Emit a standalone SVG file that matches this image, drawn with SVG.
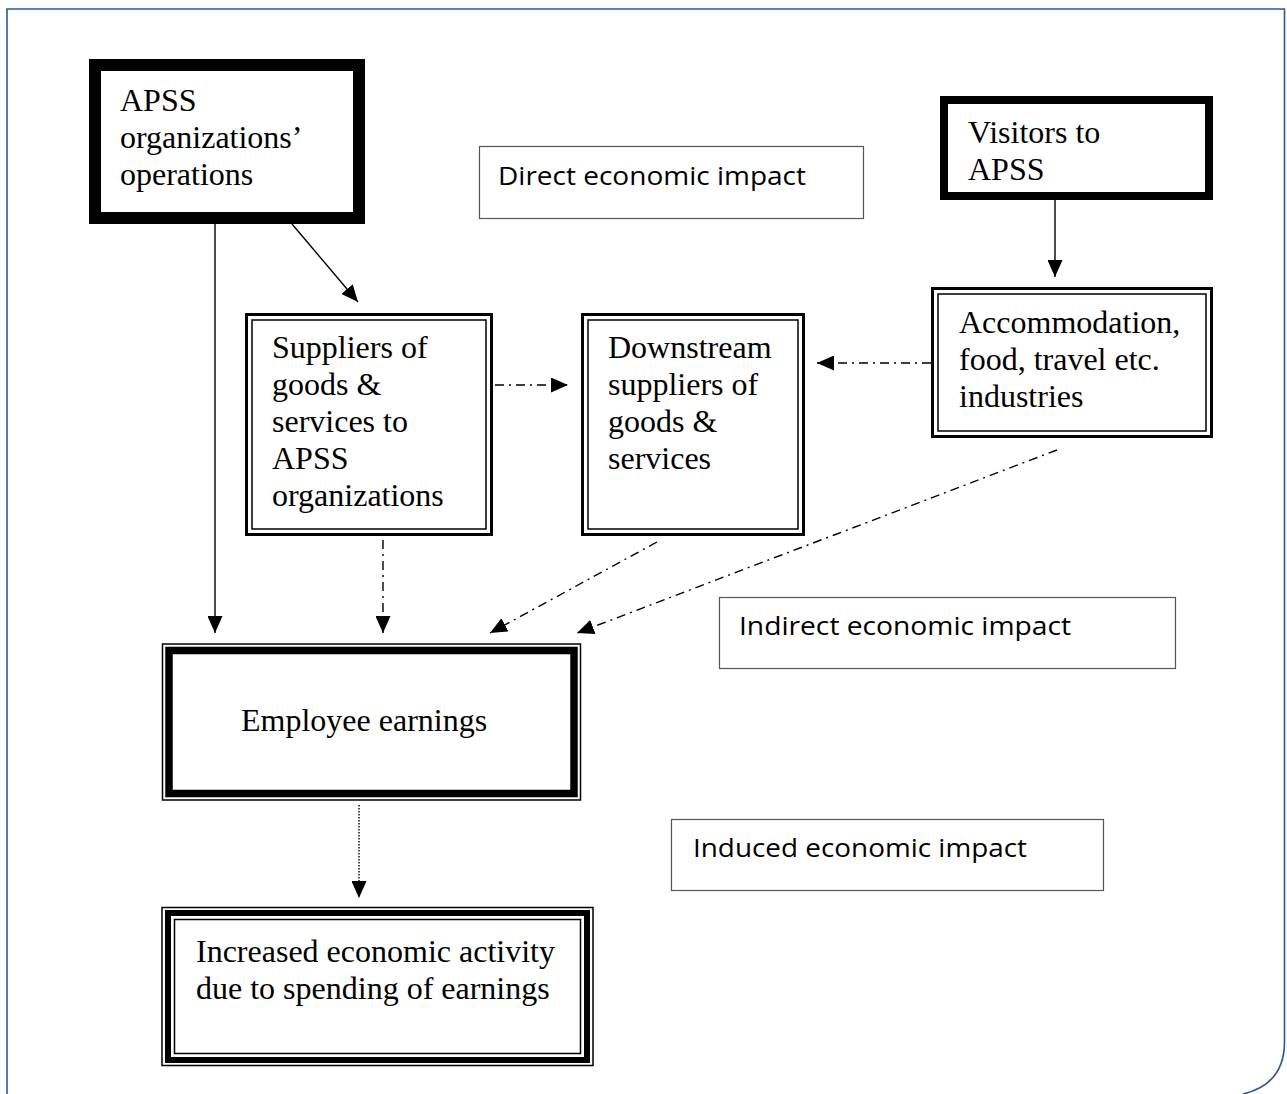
<svg xmlns="http://www.w3.org/2000/svg" width="1287" height="1094" viewBox="0 0 1287 1094">
<style>
.t{font-family:"Liberation Serif","Times New Roman",serif;font-size:32px;fill:#000}
.h{font-family:"Open Sans","Noto Sans",sans-serif;font-size:25px;fill:#000}
.lbl{fill:#fff;stroke:#555;stroke-width:1.2}
.c{fill:none;stroke:#000;stroke-width:1.4}
.dd{stroke-dasharray:9 5 2 5}
.dot{stroke-dasharray:1.5 1.5}
</style>
<defs>
<marker id="ah" viewBox="0 0 17 15" refX="17" refY="7.5" markerWidth="17" markerHeight="15" markerUnits="userSpaceOnUse" orient="auto">
<path d="M0,0 L17,7.5 L0,15 z" fill="#000"/>
</marker>
</defs>
<rect width="1287" height="1094" fill="#fff"/>
<path d="M7,1094 V9 H1284.5 V1042 Q1284.5,1084 1243,1094" fill="none" stroke="#2b5797" stroke-width="1.6"/>

<g id="connectors">
<line class="c" x1="215" y1="224" x2="215" y2="633" marker-end="url(#ah)"/>
<line class="c" x1="292" y1="224" x2="358" y2="302" marker-end="url(#ah)"/>
<line class="c" x1="1055" y1="200" x2="1055" y2="277" marker-end="url(#ah)"/>
<line class="c dd" x1="495" y1="385" x2="568" y2="385" marker-end="url(#ah)"/>
<line class="c dd" x1="931" y1="363" x2="817" y2="363" marker-end="url(#ah)"/>
<line class="c dd" x1="383" y1="540" x2="383" y2="633" marker-end="url(#ah)"/>
<line class="c dd" x1="657" y1="542" x2="490" y2="633" marker-end="url(#ah)"/>
<line class="c dd" x1="1057" y1="450" x2="577" y2="633" marker-end="url(#ah)"/>
<line class="c dot" x1="359" y1="805" x2="359" y2="898" marker-end="url(#ah)"/>
</g>

<g id="n-apss">
<rect x="95" y="65" width="264" height="153" fill="#fff" stroke="#000" stroke-width="12"/>
<text class="t"><tspan x="120" y="111">APSS</tspan><tspan x="120" y="148">organizations’</tspan><tspan x="120" y="185">operations</tspan></text>
</g>

<g id="n-visitors">
<rect x="944" y="100" width="265" height="96" fill="#fff" stroke="#000" stroke-width="8"/>
<text class="t"><tspan x="968" y="143">Visitors to</tspan><tspan x="968" y="180">APSS</tspan></text>
</g>

<g id="n-direct">
<rect class="lbl" x="479.5" y="146.5" width="384" height="72"/>
<text class="h" x="498" y="185" textLength="308" lengthAdjust="spacingAndGlyphs">Direct economic impact</text>
</g>

<g id="n-suppliers">
<rect x="246.5" y="314.5" width="245" height="220" fill="#fff" stroke="#000" stroke-width="3"/>
<rect x="252" y="320" width="234" height="209" fill="none" stroke="#000" stroke-width="1.5"/>
<text class="t"><tspan x="272" y="358">Suppliers of</tspan><tspan x="272" y="395">goods &amp;</tspan><tspan x="272" y="432">services to</tspan><tspan x="272" y="469">APSS</tspan><tspan x="272" y="506">organizations</tspan></text>
</g>

<g id="n-downstream">
<rect x="582.5" y="314.5" width="221" height="220" fill="#fff" stroke="#000" stroke-width="3"/>
<rect x="588" y="320" width="210" height="209" fill="none" stroke="#000" stroke-width="1.5"/>
<text class="t"><tspan x="608" y="358">Downstream</tspan><tspan x="608" y="395">suppliers of</tspan><tspan x="608" y="432">goods &amp;</tspan><tspan x="608" y="469">services</tspan></text>
</g>

<g id="n-accommodation">
<rect x="932.5" y="288.5" width="279" height="148" fill="#fff" stroke="#000" stroke-width="3"/>
<rect x="938" y="294" width="268" height="137" fill="none" stroke="#000" stroke-width="1.5"/>
<text class="t"><tspan x="959" y="333">Accommodation,</tspan><tspan x="959" y="370">food, travel etc.</tspan><tspan x="959" y="407">industries</tspan></text>
</g>

<g id="n-indirect">
<rect class="lbl" x="719.5" y="597.5" width="456" height="71"/>
<text class="h" x="739" y="635" textLength="332" lengthAdjust="spacingAndGlyphs">Indirect economic impact</text>
</g>

<g id="n-employee">
<rect x="162.5" y="644" width="418" height="156" fill="#fff" stroke="#000" stroke-width="1.5"/>
<rect x="169" y="650.5" width="405" height="143" fill="none" stroke="#000" stroke-width="7.5"/>
<text class="t" x="241" y="731">Employee earnings</text>
</g>

<g id="n-induced">
<rect class="lbl" x="671.5" y="819.5" width="432" height="71"/>
<text class="h" x="693" y="857" textLength="334" lengthAdjust="spacingAndGlyphs">Induced economic impact</text>
</g>

<g id="n-increased">
<rect x="162" y="907.5" width="431" height="158" fill="#fff" stroke="#000" stroke-width="1.5"/>
<rect x="168" y="913" width="419" height="147" fill="none" stroke="#000" stroke-width="6"/>
<rect x="174.5" y="919.5" width="406" height="134" fill="none" stroke="#000" stroke-width="1.5"/>
<text class="t"><tspan x="196" y="962">Increased economic activity</tspan><tspan x="196" y="999">due to spending of earnings</tspan></text>
</g>
</svg>
